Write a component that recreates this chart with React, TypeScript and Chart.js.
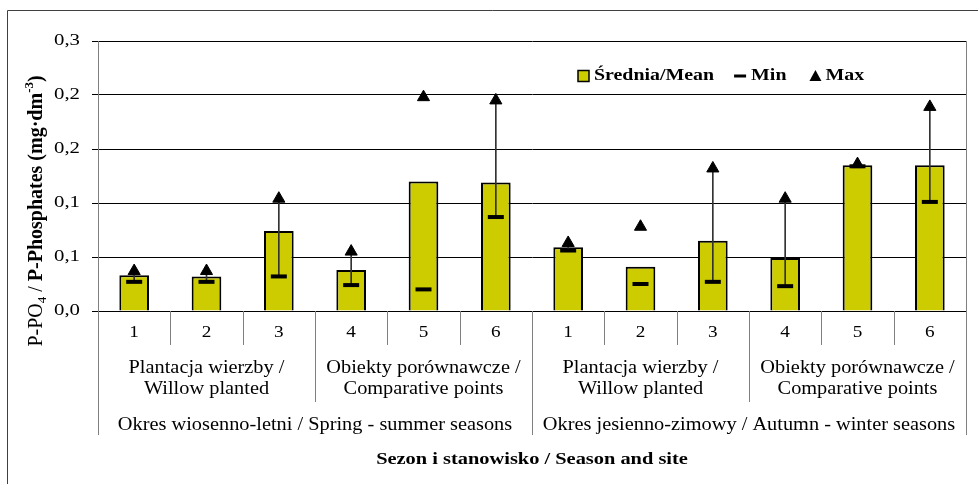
import React, { useEffect, useRef } from 'react';
import { Chart, registerables } from 'chart.js';

Chart.register(...registerables);

// ---- data ----
const categories = ['1', '2', '3', '4', '5', '6', '1', '2', '3', '4', '5', '6'];
const siteGroups = [
  ['Plantacja wierzby /', 'Willow planted'],
  ['Obiekty porównawcze /', 'Comparative points'],
  ['Plantacja wierzby /', 'Willow planted'],
  ['Obiekty porównawcze /', 'Comparative points'],
];
const seasons = [
  'Okres wiosenno-letni / Spring - summer seasons',
  'Okres jesienno-zimowy / Autumn - winter seasons',
];
const meanValues = [0.033, 0.032, 0.074, 0.038, 0.120, 0.119, 0.059, 0.041, 0.065, 0.049, 0.135, 0.135];
const minValues = [0.027, 0.027, 0.032, 0.024, 0.020, 0.087, 0.056, 0.025, 0.027, 0.023, 0.134, 0.101];
const maxValues = [0.037, 0.037, 0.104, 0.055, 0.198, 0.195, 0.063, 0.078, 0.132, 0.104, 0.136, 0.189];
const hiLoLine = [true, true, true, true, false, true, true, false, true, true, true, true];
const yTickLabels = ['0,0', '0,1', '0,1', '0,2', '0,2', '0,3'];
const legendLabels = ['Średnia/Mean', 'Min', 'Max'];
const xTitle = 'Sezon i stanowisko / Season and site';

const SERIF = '"Liberation Serif", "Times New Roman", serif';
const BAR_COLOR = '#CCCC00';

function drawText(
  ctx: CanvasRenderingContext2D,
  text: string,
  x: number,
  y: number,
  font: string,
  align: 'left' | 'center' | 'right',
  sx: number
) {
  ctx.save();
  ctx.font = font;
  ctx.textBaseline = 'middle';
  ctx.textAlign = 'left';
  ctx.fillStyle = '#000';
  const w = ctx.measureText(text).width * sx;
  const x0 = align === 'left' ? x : align === 'center' ? x - w / 2 : x - w;
  ctx.translate(x0, y);
  ctx.scale(sx, 1);
  ctx.fillText(text, 0, 0);
  ctx.restore();
  return w;
}

const decorPlugin = {
  id: 'decor',
  afterDraw(chart: any) {
    const ctx: CanvasRenderingContext2D = chart.ctx;
    const area = chart.chartArea;
    const xs = chart.scales.x;
    const ys = chart.scales.y;
    const bottom = area.bottom;
    const half = (xs.getPixelForValue(1) - xs.getPixelForValue(0)) / 2;

    ctx.save();
    // outer frame (partially visible)
    ctx.strokeStyle = '#404040';
    ctx.lineWidth = 1;
    ctx.beginPath();
    ctx.moveTo(7.5, 484);
    ctx.lineTo(7.5, 10.5);
    ctx.lineTo(978, 10.5);
    ctx.stroke();

    // y tick labels
    ys.ticks.forEach((_t: any, i: number) => {
      drawText(ctx, yTickLabels[i], 80, ys.getPixelForTick(i), `16px ${SERIF}`, 'right', 1.3);
    });

    // category dividers
    ctx.strokeStyle = '#808080';
    ctx.lineWidth = 1;
    for (let b = 0; b <= categories.length; b++) {
      const x =
        b < categories.length ? xs.getPixelForValue(b) - half : xs.getPixelForValue(categories.length - 1) + half;
      const xa = Math.round(x) + 0.5;
      let y0 = bottom;
      let y1 = bottom + 34;
      if (b % 6 === 0) {
        y1 = bottom + 124;
        if (b === 0 || b === categories.length) y0 = area.top;
      } else if (b % 3 === 0) {
        y1 = bottom + 91;
      }
      ctx.beginPath();
      ctx.moveTo(xa, y0);
      ctx.lineTo(xa, y1);
      ctx.stroke();
    }

    // level 1: category numbers
    categories.forEach((c, i) => {
      drawText(ctx, c, xs.getPixelForValue(i), bottom + 22, `16px ${SERIF}`, 'center', 1.2);
    });
    // level 2: site groups
    siteGroups.forEach((g, gi) => {
      const cx = xs.getPixelForValue(gi * 3 + 1);
      drawText(ctx, g[0], cx, bottom + 57, `18px ${SERIF}`, 'center', 1.13);
      drawText(ctx, g[1], cx, bottom + 78, `18px ${SERIF}`, 'center', 1.13);
    });
    // level 3: seasons
    seasons.forEach((s, si) => {
      const cx = (xs.getPixelForValue(si * 6) + xs.getPixelForValue(si * 6 + 5)) / 2;
      drawText(ctx, s, cx, bottom + 114, `18px ${SERIF}`, 'center', 1.13);
    });

    // x axis title
    drawText(ctx, xTitle, (area.left + area.right) / 2, bottom + 149, `bold 17px ${SERIF}`, 'center', 1.2);

    // y axis title (rotated, with sub/superscript)
    const base = 20;
    const segs = [
      { t: 'P-PO', s: 1, dy: 0, w: 'normal' },
      { t: '4', s: 0.65, dy: 0.3, w: 'normal' },
      { t: ' / ', s: 1, dy: 0, w: 'normal' },
      { t: 'P-Phosphates (mg·dm', s: 1, dy: 0, w: 'bold' },
      { t: '-3', s: 0.65, dy: -0.38, w: 'bold' },
      { t: ')', s: 1, dy: 0, w: 'bold' },
    ];
    ctx.save();
    ctx.translate(37, 211);
    ctx.rotate(-Math.PI / 2);
    ctx.fillStyle = '#000';
    ctx.textBaseline = 'middle';
    ctx.textAlign = 'left';
    let total = 0;
    segs.forEach((sg) => {
      ctx.font = `${sg.w} ${Math.round(base * sg.s)}px ${SERIF}`;
      total += ctx.measureText(sg.t).width;
    });
    let cx = -total / 2;
    segs.forEach((sg) => {
      ctx.font = `${sg.w} ${Math.round(base * sg.s)}px ${SERIF}`;
      ctx.fillText(sg.t, cx, sg.dy * base);
      cx += ctx.measureText(sg.t).width;
    });
    ctx.restore();

    // legend
    const ly = area.top + 35;
    let lx = 578;
    const lfont = `bold 17px ${SERIF}`;
    // mean box
    ctx.fillStyle = BAR_COLOR;
    ctx.fillRect(lx, ly - 5.5, 11, 11);
    ctx.strokeStyle = '#000';
    ctx.lineWidth = 1.5;
    ctx.strokeRect(lx, ly - 5.5, 11, 11);
    lx += 16;
    lx += drawText(ctx, legendLabels[0], lx, ly, lfont, 'left', 1.17) + 20;
    // min dash
    ctx.fillStyle = '#000';
    ctx.fillRect(lx, ly - 1.5, 12, 3);
    lx += 17;
    lx += drawText(ctx, legendLabels[1], lx, ly, lfont, 'left', 1.17) + 23;
    // max triangle
    ctx.beginPath();
    ctx.moveTo(lx + 6, ly - 6);
    ctx.lineTo(lx + 12, ly + 5);
    ctx.lineTo(lx, ly + 5);
    ctx.closePath();
    ctx.fill();
    lx += 16;
    drawText(ctx, legendLabels[2], lx, ly, lfont, 'left', 1.17);

    ctx.restore();
  },
};

export default function App() {
  const ref = useRef<HTMLCanvasElement | null>(null);

  useEffect(() => {
    if (!ref.current) return;
    const rangeData = minValues.map((mn, i) => (hiLoLine[i] ? [mn, maxValues[i]] : null));
    const chart = new Chart(ref.current, {
      type: 'bar',
      data: {
        labels: categories,
        datasets: [
          {
            type: 'line',
            label: legendLabels[2],
            data: maxValues,
            showLine: false,
            pointStyle: 'triangle',
            pointRadius: 7,
            pointBackgroundColor: '#000',
            pointBorderColor: '#000',
            pointBorderWidth: 1,
            order: 0,
          } as any,
          {
            type: 'line',
            label: legendLabels[1],
            data: minValues,
            showLine: false,
            pointStyle: 'line',
            pointRadius: 8,
            pointBorderColor: '#000',
            pointBorderWidth: 4,
            order: 1,
          } as any,
          {
            type: 'bar',
            label: 'hi-lo',
            data: rangeData as any,
            backgroundColor: '#333333',
            barThickness: 1,
            grouped: false,
            order: 2,
          } as any,
          {
            type: 'bar',
            label: legendLabels[0],
            data: meanValues,
            backgroundColor: BAR_COLOR,
            borderColor: '#000',
            borderWidth: 2,
            barPercentage: 0.41,
            categoryPercentage: 1,
            grouped: false,
            order: 3,
          } as any,
        ],
      },
      options: {
        responsive: false,
        animation: false,
        events: [],
        layout: { padding: { left: 0, right: 2, top: 41, bottom: 173 } },
        plugins: { legend: { display: false }, tooltip: { enabled: false } },
        scales: {
          x: { display: false, offset: true },
          y: {
            min: 0,
            max: 0.25,
            ticks: { stepSize: 0.05, display: false },
            grid: { color: '#000', lineWidth: 1, tickLength: 6, tickColor: '#000' },
            border: { color: '#808080', width: 1 },
            afterFit: (s: any) => {
              s.width = 98;
            },
          },
        },
      },
      plugins: [decorPlugin],
    });
    return () => chart.destroy();
  }, []);

  return (
    <div style={{ position: 'absolute', left: 0, top: 0, width: 978, height: 484, background: '#fff' }}>
      <canvas ref={ref} width={978} height={484} />
    </div>
  );
}
